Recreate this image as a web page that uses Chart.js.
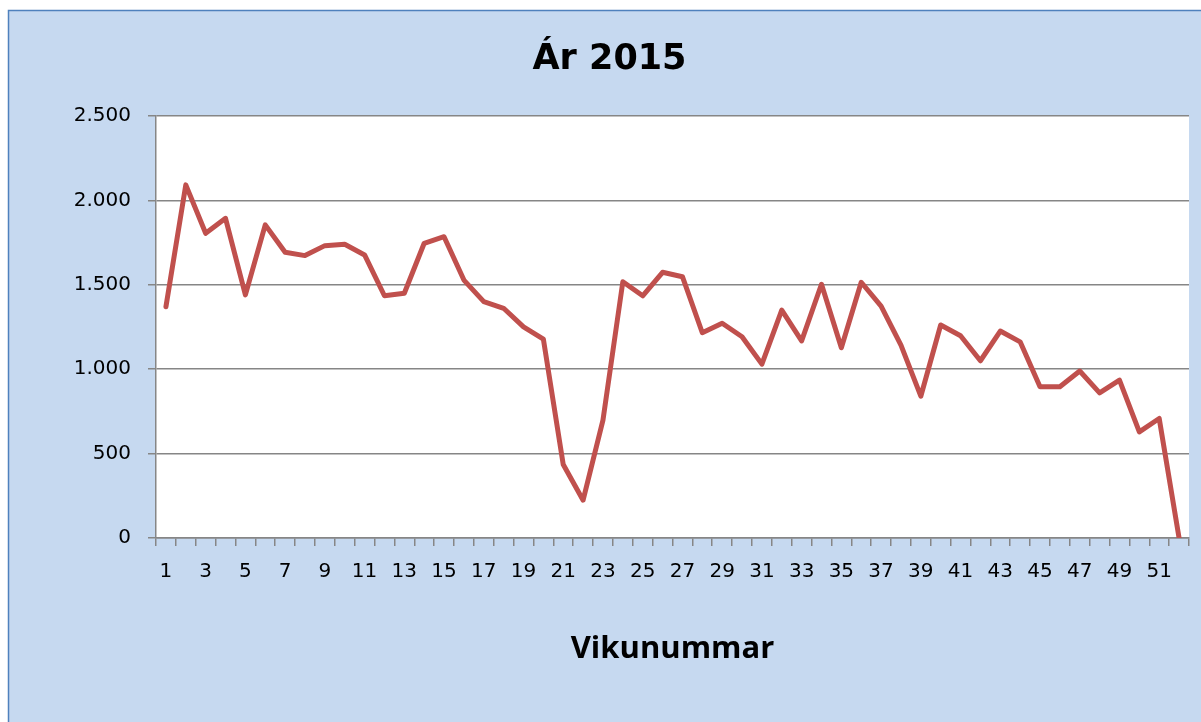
<!DOCTYPE html>
<html>
<head>
<meta charset="utf-8">
<script src="https://cdn.jsdelivr.net/npm/chart.js@4/dist/chart.umd.min.js"></script>
<style>
  html, body { margin: 0; padding: 0; background: #ffffff; }
  #wrap { width: 1201px; height: 722px; position: relative; }
</style>
</head>
<body>
<div id="wrap"><canvas id="c" width="1201" height="722"></canvas></div>
<script>
// ---- Data ----
const weeks = ["1","2","3","4","5","6","7","8","9","10","11","12","13","14","15","16","17","18","19","20","21","22","23","24","25","26","27","28","29","30","31","32","33","34","35","36","37","38","39","40","41","42","43","44","45","46","47","48","49","50","51","52"];
const values2015 = [1370, 2092, 1805, 1894, 1440, 1855, 1693, 1673, 1732, 1740,
                    1677, 1435, 1450, 1746, 1785, 1528, 1400, 1361, 1251, 1178,
                    435, 224, 698, 1518, 1435, 1574, 1548, 1216, 1272, 1192,
                    1030, 1350, 1168, 1503, 1127, 1515, 1374, 1143, 840, 1262,
                    1198, 1050, 1226, 1162, 896, 896, 989, 860, 935, 629,
                    708, 0];
const yTicks = [0, 500, 1000, 1500, 2000, 2500];
const chartTitle = "Ár 2015";
const xAxisTitle = "Vikunummar";

function fmtThousands(v) {
  return String(v).replace(/\B(?=(\d{3})+(?!\d))/g, ".");
}

const bgPlugin = {
  id: 'bgPlugin',
  beforeDraw(chart) {
    const ctx = chart.ctx;
    const a = chart.chartArea;
    ctx.save();
    ctx.fillStyle = '#ffffff';
    ctx.fillRect(0, 0, chart.width, chart.height);
    ctx.fillStyle = '#c6d9f0';
    ctx.fillRect(8.5, 10.5, chart.width + 10, chart.height + 10);
    ctx.strokeStyle = '#4f81bd';
    ctx.lineWidth = 1.5;
    ctx.strokeRect(8.5, 10.5, chart.width + 10, chart.height + 10);
    ctx.fillStyle = '#ffffff';
    ctx.fillRect(a.left, a.top, a.right - a.left, a.bottom - a.top);
    ctx.restore();
  }
};

new Chart(document.getElementById('c'), {
  type: 'line',
  data: {
    labels: weeks,
    datasets: [{
      label: chartTitle,
      data: values2015,
      borderColor: '#c0504d',
      backgroundColor: '#c0504d',
      borderWidth: 5,
      pointRadius: 0,
      pointHoverRadius: 0,
      tension: 0,
      borderJoinStyle: 'round',
      borderCapStyle: 'round',
      fill: false
    }]
  },
  options: {
    responsive: false,
    animation: false,
    devicePixelRatio: 1,
    layout: { padding: { left: 30, right: 12, top: 0, bottom: 0 } },
    plugins: {
      legend: { display: false },
      tooltip: { enabled: false },
      title: {
        display: true,
        text: chartTitle,
        color: '#000000',
        font: { family: 'DejaVu Sans', size: 35, weight: 'bold' },
        padding: { top: 39, bottom: 35 }
      }
    },
    scales: {
      x: {
        type: 'category',
        offset: true,
        afterFit(scale) { scale.height = 184; },
        grid: {
          offset: true,
          drawOnChartArea: false,
          drawTicks: true,
          tickLength: 8,
          color: '#868686',
          lineWidth: 1.5
        },
        border: { display: true, color: '#868686', width: 1.5 },
        ticks: {
          autoSkip: false,
          maxRotation: 0,
          minRotation: 0,
          padding: 14,
          color: '#000000',
          font: { family: 'DejaVu Sans', size: 20 },
          callback(val, index) {
            return index % 2 === 0 ? this.getLabelForValue(val) : '';
          }
        },
        title: {
          display: true,
          text: xAxisTitle,
          color: '#000000',
          font: { family: 'Open Sans', size: 31, weight: 'bold' },
          padding: { top: 0, bottom: 54 }
        }
      },
      y: {
        min: yTicks[0],
        max: yTicks[yTicks.length - 1],
        afterFit(scale) { scale.width = 126; },
        afterBuildTicks(scale) { scale.ticks = yTicks.map(v => ({ value: v })); },
        grid: {
          drawOnChartArea: true,
          drawTicks: true,
          tickLength: 8,
          color: '#868686',
          lineWidth: 1.5
        },
        border: { display: true, color: '#868686', width: 1.5 },
        ticks: {
          padding: 17,
          color: '#000000',
          font: { family: 'DejaVu Sans', size: 20 },
          callback(v) { return fmtThousands(v); }
        }
      }
    }
  },
  plugins: [bgPlugin]
});
</script>
</body>
</html>
